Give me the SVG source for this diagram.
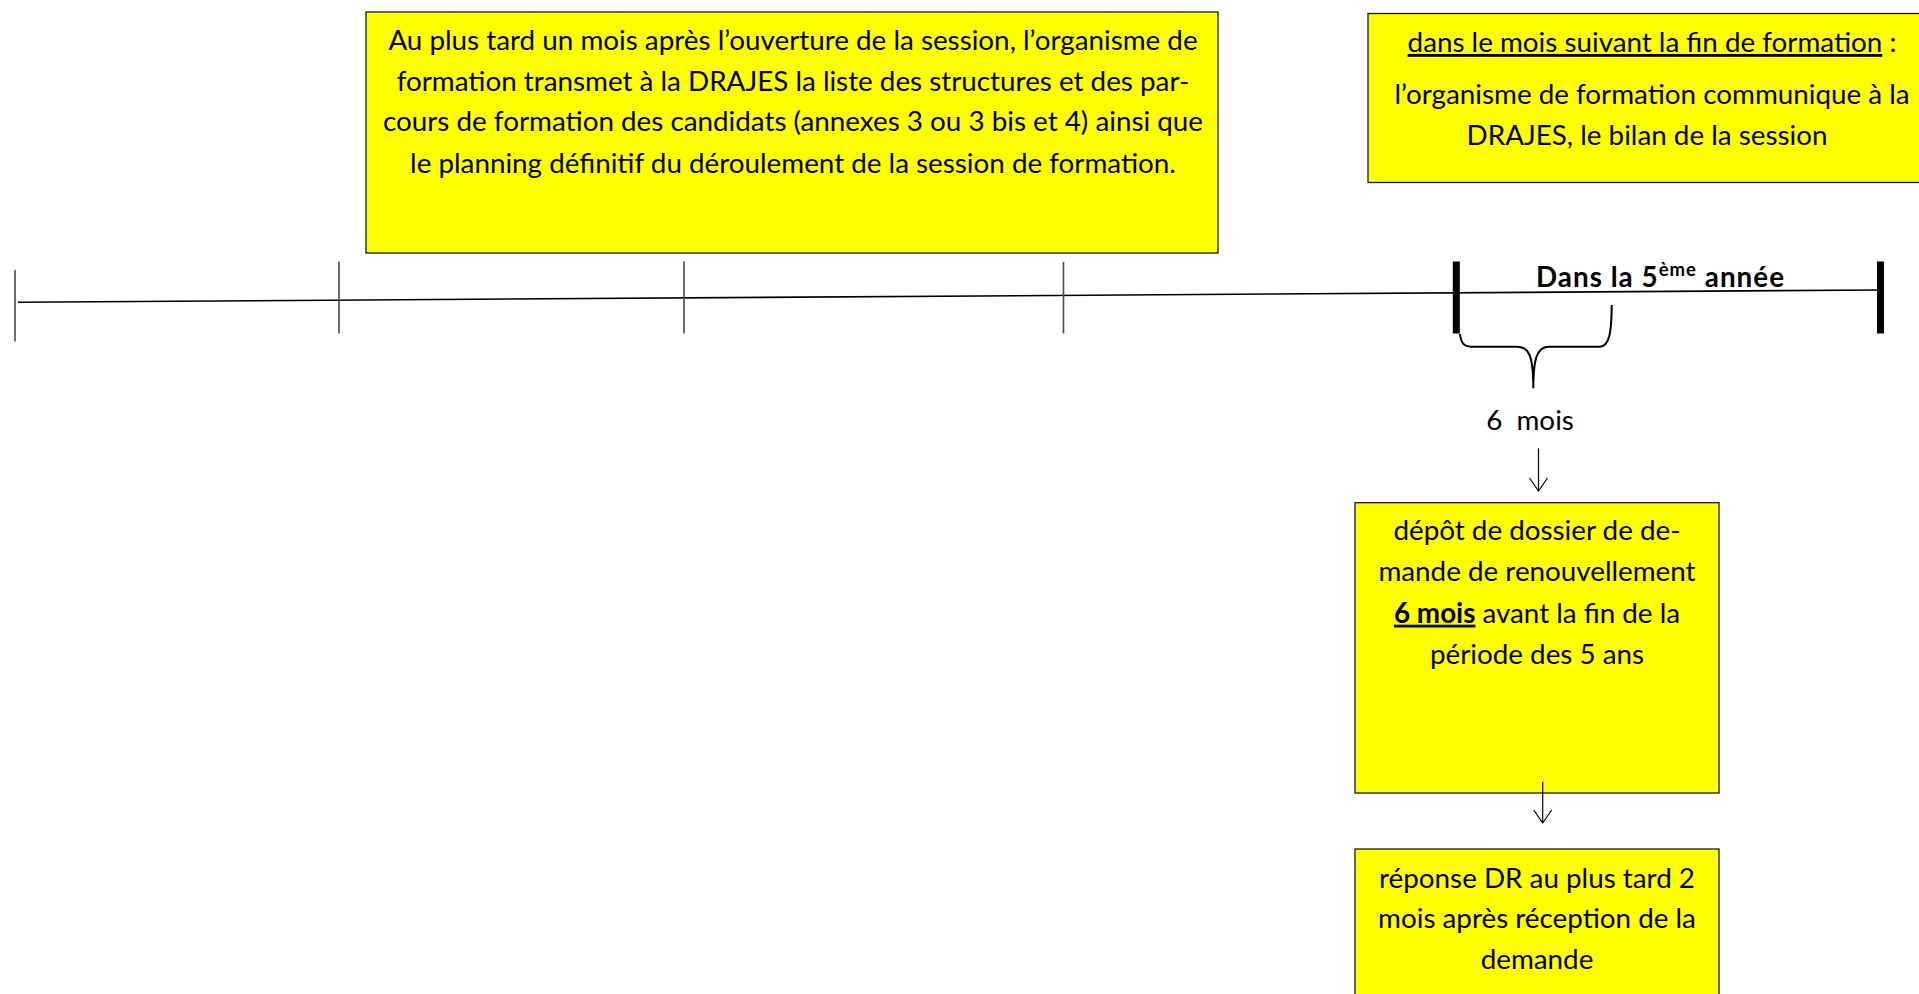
<svg xmlns="http://www.w3.org/2000/svg" width="1919" height="994" viewBox="0 0 1919 994">
<style>
.box{fill:#FFFF00;stroke:#1a1a1a;stroke-width:1.3}
.t{font-family:Lato,"Open Sans",sans-serif;font-size:27.8px;fill:#000;text-anchor:middle}
.b{font-weight:bold}
.u{text-decoration:underline}
.tick{stroke:#4a4a4a;stroke-width:1.6}
.thick{stroke:#000;stroke-width:7}
.conn{stroke:#000;stroke-width:1.2;fill:none}
</style>
<defs>
<marker id="vhead" viewBox="0 0 20 20" refX="16" refY="10" markerWidth="20" markerHeight="20" markerUnits="userSpaceOnUse" orient="auto">
<path d="M3,1 L16,10 L3,19" fill="none" stroke="#000" stroke-width="1.2"/>
</marker>
</defs>
<rect width="1919" height="994" fill="#fff"/>

<g id="timeline">
<line x1="18" y1="302.3" x2="1880" y2="290" stroke="#000" stroke-width="1.6"/>
<line class="tick" x1="15" y1="270" x2="15" y2="341.5"/>
<line class="tick" x1="339" y1="261.5" x2="339" y2="333.5"/>
<line class="tick" x1="684" y1="261.5" x2="684" y2="333.5"/>
<line class="tick" x1="1063.5" y1="262" x2="1063.5" y2="333.5" stroke="#000"/>
<line class="thick" x1="1456.3" y1="261.5" x2="1456.3" y2="333.5"/>
<line class="thick" x1="1880.5" y1="261.5" x2="1880.5" y2="333.5"/>
<text class="t b" x="1660" y="286.5" font-size="31.5" textLength="248">Dans la 5<tspan font-size="18.5" dy="-11">ème</tspan><tspan dy="11"> année</tspan></text>
<path d="M1460,334 C1461,343 1464,346.7 1471,346.7 L1517,346.7 C1529,346.7 1533.3,356 1533.3,388.3 C1533.3,356 1538,346.7 1549,346.7 L1600,346.7 C1609,346.7 1611.7,333 1611.7,305" fill="none" stroke="#000" stroke-width="2"/>
<text class="t" x="1530" y="429.5" xml:space="preserve">6  mois</text>
</g>

<g id="node-session">
<rect class="box" x="366" y="12" width="852" height="241"/>
<text class="t" x="793" y="50">Au plus tard un mois après l’ouverture de la session, l’organisme de</text>
<text class="t" x="793" y="90.7">formation transmet à la DRAJES la liste des structures et des par-</text>
<text class="t" x="793" y="131">cours de formation des candidats (annexes 3 ou 3 bis et 4) ainsi que</text>
<text class="t" x="793" y="172.7">le planning définitif du déroulement de la session de formation.</text>
</g>

<g id="node-bilan">
<rect class="box" x="1368" y="13.5" width="560" height="169"/>
<text class="t" x="1652" y="52"><tspan class="u">dans le mois suivant la fin de formation</tspan> :</text>
<text class="t" x="1652" y="104">l’organisme de formation communique à la</text>
<text class="t" x="1647" y="144.5">DRAJES, le bilan de la session</text>
</g>

<g id="node-depot">
<rect class="box" x="1355" y="502.7" width="364" height="290.3"/>
<text class="t" x="1537" y="540">dépôt de dossier de de-</text>
<text class="t" x="1537" y="580.7">mande de renouvellement</text>
<text class="t" x="1537" y="622.7"><tspan class="b u">6 mois</tspan> avant la fin de la</text>
<text class="t" x="1537" y="664">période des 5 ans</text>
</g>

<g id="node-reponse">
<rect class="box" x="1355" y="849" width="364" height="160"/>
<text class="t" x="1537" y="888">réponse DR au plus tard 2</text>
<text class="t" x="1537" y="928">mois après réception de la</text>
<text class="t" x="1537" y="968.5">demande</text>
</g>

<g id="connectors">
<line class="conn" x1="1538.5" y1="448.3" x2="1538.5" y2="491" marker-end="url(#vhead)"/>
<line class="conn" x1="1542.7" y1="781.7" x2="1542.7" y2="823" marker-end="url(#vhead)"/>
</g>
</svg>
